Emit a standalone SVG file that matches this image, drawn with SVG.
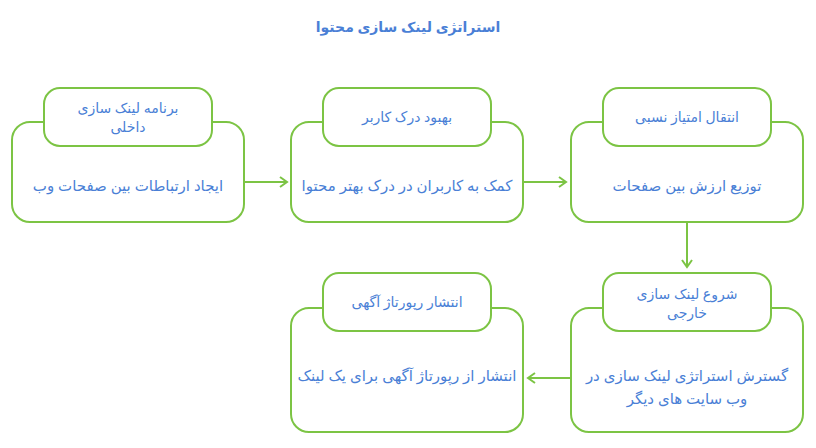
<svg xmlns="http://www.w3.org/2000/svg" width="816" height="448" viewBox="0 0 816 448">
<style>
.box{fill:#fff;stroke:#7cc444;stroke-width:2}
.hd{font-family:"Noto Sans","DejaVu Sans",sans-serif;font-size:14px;fill:#4a7fd6;text-anchor:middle}
.bd{font-family:"Noto Sans","DejaVu Sans",sans-serif;font-size:15px;fill:#4a7fd6;text-anchor:middle}
.ln{fill:none;stroke:#7cc444;stroke-width:2}
</style>
<defs><marker id="a" markerWidth="12" markerHeight="12" refX="10" refY="6" orient="auto" markerUnits="userSpaceOnUse"><path d="M3,1 L10,6 L3,11" fill="none" stroke="#7cc444" stroke-width="2"/></marker></defs>
<rect width="816" height="448" fill="#fff"/>
<text x="408" y="32" font-family="Noto Sans,DejaVu Sans,sans-serif" font-size="14" font-weight="bold" fill="#4a7fd6" text-anchor="middle" direction="rtl">استراتژی لینک سازی محتوا</text>
<g id="connectors">
<line class="ln" x1="245" y1="182" x2="287" y2="182" marker-end="url(#a)"/>
<line class="ln" x1="524" y1="182" x2="566" y2="182" marker-end="url(#a)"/>
<line class="ln" x1="687" y1="223" x2="687" y2="267" marker-end="url(#a)"/>
<line class="ln" x1="570" y1="378" x2="528" y2="378" marker-end="url(#a)"/>
</g>
<g id="n1"><rect class="box" x="12" y="122" width="232" height="100" rx="18"/><rect class="box" x="44" y="88" width="168" height="58" rx="16"/>
<text class="hd" x="128" y="113" direction="rtl">برنامه لینک سازی</text><text class="hd" x="128" y="132" direction="rtl">داخلی</text>
<text class="bd" x="128" y="191" direction="rtl">ایجاد ارتباطات بین صفحات وب</text></g>
<g id="n2"><rect class="box" x="291" y="122" width="232" height="100" rx="18"/><rect class="box" x="323" y="88" width="168" height="58" rx="16"/>
<text class="hd" x="407" y="122" direction="rtl">بهبود درک کاربر</text>
<text class="bd" x="407" y="191" direction="rtl">کمک به کاربران در درک بهتر محتوا</text></g>
<g id="n3"><rect class="box" x="571" y="122" width="232" height="100" rx="18"/><rect class="box" x="603" y="88" width="168" height="58" rx="16"/>
<text class="hd" x="687" y="122" direction="rtl">انتقال امتیاز نسبی</text>
<text class="bd" x="687" y="191" direction="rtl">توزیع ارزش بین صفحات</text></g>
<g id="n4"><rect class="box" x="571" y="308" width="232" height="124" rx="18"/><rect class="box" x="603" y="273" width="168" height="58" rx="16"/>
<text class="hd" x="687" y="299" direction="rtl">شروع لینک سازی</text><text class="hd" x="687" y="318" direction="rtl">خارجی</text>
<text class="bd" x="687" y="381" direction="rtl">گسترش استراتژی لینک سازی در</text><text class="bd" x="687" y="404" direction="rtl">وب سایت های دیگر</text></g>
<g id="n5"><rect class="box" x="291" y="308" width="232" height="124" rx="18"/><rect class="box" x="323" y="273" width="168" height="58" rx="16"/>
<text class="hd" x="407" y="307" direction="rtl">انتشار رپورتاژ آگهی</text>
<text class="bd" x="407" y="381" direction="rtl">انتشار از رپورتاژ آگهی برای یک لینک</text></g>
</svg>
